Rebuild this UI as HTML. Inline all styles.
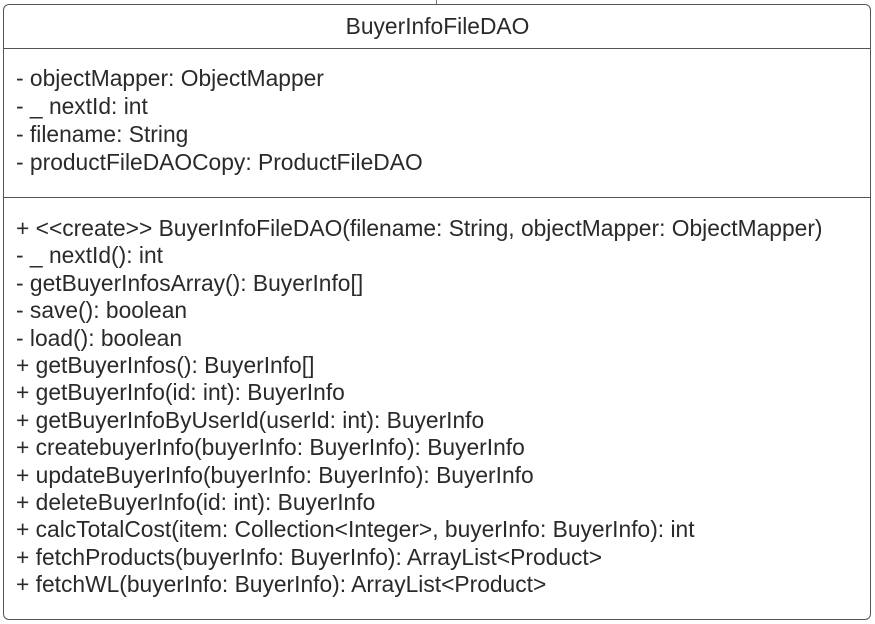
<!DOCTYPE html>
<html><head><style>
body{margin:0;width:875px;height:624px;background:#fff;position:relative;overflow:hidden;font-family:"Liberation Sans",sans-serif;color:#2a2a2a}
.box{position:absolute;left:3px;top:4px;width:868px;height:616px;border:1.5px solid #555;border-radius:6px;box-sizing:border-box}
.sep{position:absolute;left:3px;width:867px;height:0;border-top:1.5px solid #555}
.t{position:absolute;left:16px;font-size:22.8px;white-space:nowrap;line-height:26px;transform:scaleX(1.0);transform-origin:left}
</style></head><body>
<div class="box"></div>
<div style="position:absolute;left:436px;top:0;width:1px;height:4px;background:#777"></div>
<div class="t" style="left:0;width:875px;text-align:center;top:13px">BuyerInfoFileDAO</div>
<div class="sep" style="top:48px"></div>
<div class="sep" style="top:197px"></div>
<div class="t" style="top:65px">- objectMapper: ObjectMapper</div>
<div class="t" style="top:93px">- _ nextId: int</div>
<div class="t" style="top:121px">- filename: String</div>
<div class="t" style="top:149px">- productFileDAOCopy: ProductFileDAO</div>
<div class="t" style="top:215px">+ &lt;&lt;create&gt;&gt; BuyerInfoFileDAO(filename: String, objectMapper: ObjectMapper)</div>
<div class="t" style="top:242.4px">- _ nextId(): int</div>
<div class="t" style="top:269.8px">- getBuyerInfosArray(): BuyerInfo[]</div>
<div class="t" style="top:297.2px">- save(): boolean</div>
<div class="t" style="top:324.6px">- load(): boolean</div>
<div class="t" style="top:352px">+ getBuyerInfos(): BuyerInfo[]</div>
<div class="t" style="top:379.4px">+ getBuyerInfo(id: int): BuyerInfo</div>
<div class="t" style="top:406.8px">+ getBuyerInfoByUserId(userId: int): BuyerInfo</div>
<div class="t" style="top:434.2px">+ createbuyerInfo(buyerInfo: BuyerInfo): BuyerInfo</div>
<div class="t" style="top:461.6px">+ updateBuyerInfo(buyerInfo: BuyerInfo): BuyerInfo</div>
<div class="t" style="top:489px">+ deleteBuyerInfo(id: int): BuyerInfo</div>
<div class="t" style="top:516.4px">+ calcTotalCost(item: Collection&lt;Integer&gt;, buyerInfo: BuyerInfo): int</div>
<div class="t" style="top:543.8px">+ fetchProducts(buyerInfo: BuyerInfo): ArrayList&lt;Product&gt;</div>
<div class="t" style="top:571.2px">+ fetchWL(buyerInfo: BuyerInfo): ArrayList&lt;Product&gt;</div>
</body></html>
